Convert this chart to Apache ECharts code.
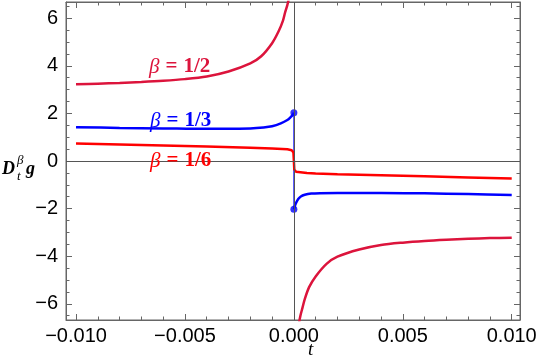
<!DOCTYPE html>
<html>
<head>
<meta charset="utf-8">
<script src="https://cdn.jsdelivr.net/npm/echarts@6/dist/echarts.min.js"></script>
<style>
  html, body { margin: 0; padding: 0; background: #fff; }
  #chart { width: 540px; height: 364px; }
</style>
</head>
<body>
<div id="chart"></div>
<script>
// values
const tHalfLeft = [-0.0100, -0.0090, -0.0080, -0.0070, -0.0060, -0.0050, -0.0040, -0.0030, -0.0020, -0.0015, -0.0010, -0.0007, -0.0005, -0.0004, -0.0003, -0.00025, -0.0002]
const vHalfLeft = [3.22, 3.25, 3.28, 3.32, 3.37, 3.44, 3.55, 3.76, 4.10, 4.40, 4.95, 5.45, 5.90, 6.25, 6.55, 6.75, 7.30]
const tHalfRight = [0.0002, 0.00025, 0.0003, 0.0004, 0.0005, 0.0007, 0.0010, 0.0015, 0.0020, 0.0030, 0.0040, 0.0050, 0.0060, 0.0070, 0.0080, 0.0090, 0.0100]
const vHalfRight = [-7.30, -6.75, -6.50, -6.15, -5.80, -5.30, -4.85, -4.32, -4.02, -3.72, -3.53, -3.43, -3.36, -3.31, -3.27, -3.24, -3.22]

const tThirdLeft = [-0.010, -0.008, -0.006, -0.004, -0.003, -0.002, -0.0014, -0.001, -0.0006, -0.0003, -0.00015, -0.00005, 0]
const vThirdLeft = [1.42, 1.39, 1.37, 1.35, 1.35, 1.37, 1.41, 1.46, 1.58, 1.72, 1.84, 1.94, 2.03]
const tThirdRight = [0, 0.00005, 0.0001, 0.0002, 0.00032, 0.0005, 0.0008, 0.0012, 0.002, 0.004, 0.006, 0.008, 0.010]
const vThirdRight = [-2.03, -1.88, -1.76, -1.60, -1.49, -1.42, -1.37, -1.35, -1.34, -1.34, -1.36, -1.39, -1.43]
const jumpThird = [[0, 2.03], [0, -2.03]]

const tSixth = [-0.010, -0.008, -0.006, -0.004, -0.002, -0.001, -0.0003, -0.0001, -0.00002, 0, 0.00002, 0.0001, 0.0006, 0.001, 0.002, 0.004, 0.006, 0.008, 0.010]
const vSixth = [0.73, 0.69, 0.65, 0.61, 0.56, 0.53, 0.49, 0.45, 0.36, 0, -0.36, -0.45, -0.50, -0.52, -0.56, -0.60, -0.64, -0.69, -0.74]

const xMajor = 0.005
const yMajor = 2

const crimson = '#dc143c'
const blue = '#0000ff'
const red = '#ff0000'
const frame = '#666666'

const zip = (t, v) => t.map((x, i) => [x, v[i]])
const minus = (s) => s.replace('-', '\u2212')

const chart = echarts.init(document.getElementById('chart'))

const xBase = {
  type: 'value',
  min: -0.01046,
  max: 0.01038,
  splitNumber: 4,
  minInterval: xMajor,
  maxInterval: xMajor,
  splitLine: { show: false },
  axisLine: { show: true, onZero: false, lineStyle: { color: frame, width: 1 } },
  axisTick: { show: true, inside: true, length: 6, lineStyle: { color: frame } },
  minorTick: { show: true, splitNumber: 5, length: 3.5, lineStyle: { color: frame } },
  minorSplitLine: { show: false }
}
const yBase = {
  type: 'value',
  min: -6.68,
  max: 6.68,
  splitNumber: 7,
  minInterval: yMajor,
  maxInterval: yMajor,
  splitLine: { show: false },
  axisLine: { show: true, onZero: false, lineStyle: { color: frame, width: 1 } },
  axisTick: { show: true, inside: true, length: 6, lineStyle: { color: frame } },
  minorTick: { show: true, splitNumber: 4, length: 3.5, lineStyle: { color: frame } },
  minorSplitLine: { show: false }
}
const isMajor = (v, step) => Math.abs(v / step - Math.round(v / step)) < 1e-6

const curve = (data, color, width, smooth) => ({
  type: 'line',
  data: data,
  showSymbol: false,
  symbol: 'none',
  smooth: smooth,
  clip: true,
  z: 3,
  lineStyle: { color: color, width: width },
  itemStyle: { color: color },
  silent: true
})

const serif = '"Liberation Serif", "DejaVu Serif", serif'
const curveLabel = (x, y, frac, color) => ({
  type: 'text',
  x: x,
  y: y,
  style: {
    text: '{g|\u03b2}{e|=}{n|' + frac + '}',
    verticalAlign: 'middle',
    rich: {
      g: { fontFamily: serif, fontStyle: 'italic', fontSize: 21, fill: color },
      e: { fontFamily: serif, fontWeight: 'bold', fontSize: 21, fill: color, padding: [0, 6, 0, 6] },
      n: { fontFamily: serif, fontWeight: 'bold', fontSize: 21, fill: color }
    }
  },
  z: 10
})

chart.setOption({
  animation: false,
  backgroundColor: '#fff',
  grid: { left: 66, right: 20, top: 2, bottom: 44, show: true, borderColor: frame, borderWidth: 1 },
  xAxis: [
    Object.assign({}, xBase, {
      position: 'bottom',
      axisLabel: {
        fontFamily: '"Liberation Sans", Arial, sans-serif',
        fontSize: 20,
        color: '#000',
        margin: 6,
        showMinLabel: false,
        showMaxLabel: false,
        formatter: (v) => isMajor(v, xMajor) ? minus(v.toFixed(3)) : ''
      }
    }),
    Object.assign({}, xBase, { position: 'top', axisLabel: { show: false } })
  ],
  yAxis: [
    Object.assign({}, yBase, {
      position: 'left',
      axisLabel: {
        fontFamily: '"Liberation Sans", Arial, sans-serif',
        fontSize: 20,
        color: '#000',
        margin: 8,
        showMinLabel: false,
        showMaxLabel: false,
        formatter: (v) => isMajor(v, yMajor) ? minus(String(Math.round(v))) : ''
      }
    }),
    Object.assign({}, yBase, { position: 'right', axisLabel: { show: false } })
  ],
  series: [
    {
      // axes through the origin
      type: 'line',
      data: [[0, 0]],
      showSymbol: false,
      symbol: 'none',
      lineStyle: { opacity: 0 },
      z: 1,
      silent: true,
      markLine: {
        silent: true,
        symbol: 'none',
        label: { show: false },
        lineStyle: { color: '#555', width: 1, type: 'solid' },
        data: [{ xAxis: 0 }, { yAxis: 0 }]
      }
    },
    Object.assign(curve(jumpThird, blue, 1, false), { z: 2 }),
    curve(zip(tHalfLeft, vHalfLeft), crimson, 2.5, 0.3),
    curve(zip(tHalfRight, vHalfRight), crimson, 2.5, 0.3),
    curve(zip(tThirdLeft, vThirdLeft), blue, 2.5, 0.3),
    curve(zip(tThirdRight, vThirdRight), blue, 2.5, 0.3),
    curve(zip(tSixth, vSixth), red, 2.5, false),
    {
      type: 'scatter',
      data: jumpThird,
      symbol: 'circle',
      symbolSize: 7,
      itemStyle: { color: blue },
      z: 4,
      silent: true
    }
  ],
  graphic: [
    curveLabel(149, 67, '1/2', crimson),
    curveLabel(150, 121, '1/3', blue),
    curveLabel(150, 161, '1/6', red),
    {
      type: 'text', x: 2, y: 178,
      style: { text: 'D', fontFamily: serif, fontStyle: 'italic', fontWeight: 'bold', fontSize: 18, fill: '#000', verticalAlign: 'bottom' }
    },
    {
      type: 'text', x: 17, y: 167,
      style: { text: '\u03b2', fontFamily: serif, fontStyle: 'italic', fontSize: 13, fill: '#000', verticalAlign: 'bottom' }
    },
    {
      type: 'text', x: 17, y: 183,
      style: { text: 't', fontFamily: serif, fontStyle: 'italic', fontSize: 13, fill: '#000', verticalAlign: 'bottom' }
    },
    {
      type: 'text', x: 26, y: 178,
      style: { text: 'g', fontFamily: serif, fontStyle: 'italic', fontWeight: 'bold', fontSize: 18, fill: '#000', verticalAlign: 'bottom' }
    },
    {
      type: 'text', x: 308, y: 359,
      style: { text: 't', fontFamily: serif, fontStyle: 'italic', fontSize: 19, fill: '#000', verticalAlign: 'bottom' }
    }
  ]
})
</script>
</body>
</html>
